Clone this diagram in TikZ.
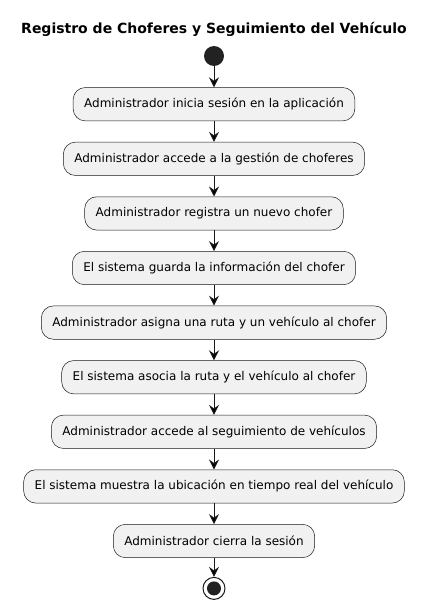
\documentclass[tikz,border=0pt]{standalone}
\usepackage{fontspec}
\setmainfont{DejaVu Sans}
\usetikzlibrary{arrows,arrows.meta,positioning,shapes}
\definecolor{umlline}{HTML}{181818}
\definecolor{umlfill}{HTML}{F1F1F1}
\definecolor{umldot}{HTML}{222222}

\begin{document}
\begin{tikzpicture}[->,>={Stealth[length=10pt,width=10pt,inset=3.5pt]}, node distance=20.8pt, semithick,
    every node/.style={font=\fontsize{12pt}{14pt}\selectfont},
    action/.style={draw=umlline, fill=umlfill, line width=0.5pt, rounded corners=12pt,
        minimum height=33.3pt, inner xsep=11pt, inner ysep=0pt},
    startdot/.style={circle, fill=umldot, minimum size=20pt, inner sep=0pt},
    flow/.style={draw=umlline, line width=1pt}
    ]
\useasboundingbox (0,0) rectangle (428pt,-605pt);
% titulo
\node[font=\fontsize{14pt}{16pt}\selectfont\bfseries] (title) at (214pt,-29pt)
    {Registro de Choferes y Seguimiento del Vehículo};
\node[startdot] (start) at (214pt,-56pt) {};
\node[action] (a1) [below=21pt of start] {Administrador inicia sesión en la aplicación};
\node[action] (a2) [below=of a1] {Administrador accede a la gestión de choferes};
\node[action] (a3) [below=of a2] {Administrador registra un nuevo chofer};
\node[action] (a4) [below=of a3] {El sistema guarda la información del chofer};
\node[action] (a5) [below=of a4] {Administrador asigna una ruta y un vehículo al chofer};
\node[action] (a6) [below=of a5] {El sistema asocia la ruta y el vehículo al chofer};
\node[action] (a7) [below=of a6] {Administrador accede al seguimiento de vehículos};
\node[action] (a8) [below=of a7] {El sistema muestra la ubicación en tiempo real del vehículo};
\node[action] (a9) [below=of a8] {Administrador cierra la sesión};
% final
\node[circle, draw=umlline, line width=1pt, fill=white, minimum size=22pt, inner sep=0pt]
    (stop) [below=19pt of a9] {};
\node[circle, fill=umldot, minimum size=14pt, inner sep=0pt] at (stop) {};
\path[flow]
(start) edge (a1)
(a1) edge (a2)
(a2) edge (a3)
(a3) edge (a4)
(a4) edge (a5)
(a5) edge (a6)
(a6) edge (a7)
(a7) edge (a8)
(a8) edge (a9)
(a9) edge (stop)
;
\end{tikzpicture}
\end{document}
